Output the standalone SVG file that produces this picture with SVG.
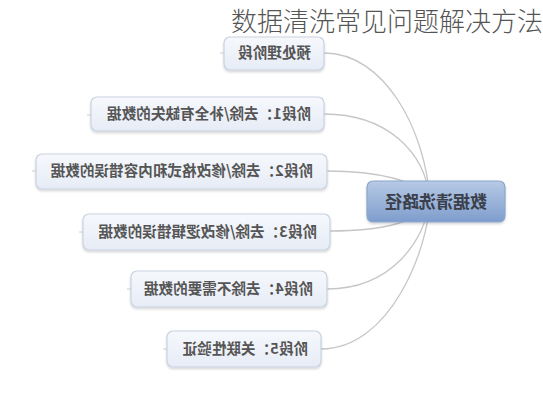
<svg xmlns="http://www.w3.org/2000/svg" width="543" height="400" viewBox="0 0 543 400">
<defs>
<linearGradient id="gn" x1="0" y1="0" x2="0" y2="1">
<stop offset="0" stop-color="#f6f8fc"/>
<stop offset="1" stop-color="#e6ecf6"/>
</linearGradient>
<linearGradient id="gc" x1="0" y1="0" x2="0" y2="1">
<stop offset="0" stop-color="#b7cae6"/>
<stop offset="1" stop-color="#7e9dcc"/>
</linearGradient>
<filter id="sh" x="-10%" y="-20%" width="120%" height="150%">
<feDropShadow dx="0" dy="1.5" stdDeviation="1.2" flood-color="#000" flood-opacity="0.18"/>
</filter>
</defs>
<style>
.n{fill:url(#gn);stroke:#c9d2e0;stroke-width:1.2;filter:url(#sh)}
.c{fill:url(#gc);stroke:#8ca6cc;stroke-width:1.2;filter:url(#sh)}
.t{font-family:"Noto Sans CJK SC","Liberation Sans",sans-serif;font-size:14.6px;font-weight:bold;fill:#555;text-anchor:start}
.ct{font-family:"Noto Sans CJK SC","Liberation Sans",sans-serif;font-size:17px;font-weight:bold;fill:#3a3f4a;text-anchor:middle}
.title{font-family:"Noto Sans CJK SC","Noto Sans",sans-serif;font-size:26px;font-weight:300;fill:#555}
.l{fill:none;stroke:#c6c6c6;stroke-width:1.3}
.s{stroke:#d0d0d0;stroke-width:1}
</style>
<rect width="543" height="400" fill="#ffffff"/>
<text class="title" x="231" y="31">数据清洗常见问题解决方法</text>
<g id="connectors">
<path class="l" d="M324,53 C385,53 425,130 430,200"/>
<path class="l" d="M324,114 C385,114 425,150 430,200"/>
<path class="l" d="M327,171 C375,171 420,180 430,200"/>
<path class="l" d="M330,231 C380,231 425,222 430,200"/>
<path class="l" d="M327,289 C392,289 425,240 430,200"/>
<path class="l" d="M321,349 C390,349 428,250 430,200"/>
<line class="s" x1="220" y1="53" x2="224" y2="53"/>
<line class="s" x1="87" y1="115" x2="91" y2="115"/>
<line class="s" x1="32" y1="171" x2="36" y2="171"/>
<line class="s" x1="79" y1="232" x2="83" y2="232"/>
<line class="s" x1="127" y1="289" x2="131" y2="289"/>
<line class="s" x1="163" y1="349" x2="167" y2="349"/>
</g>
<g id="center">
<rect class="c" x="367" y="181" width="138" height="41" rx="6"/>
<text class="ct" transform="scale(-1,1)" x="-436" y="208">数据清洗路径</text>
</g>
<g id="n0">
<rect class="n" x="224" y="37" width="100" height="33" rx="6"/>
<text class="t" transform="scale(-1,1)" x="-311" y="58">预处理阶段</text>
</g>
<g id="n1">
<rect class="n" x="91" y="97" width="233" height="34" rx="6"/>
<text class="t" transform="scale(-1,1)" x="-311" y="119">阶段1：去除/补全有缺失的数据</text>
</g>
<g id="n2">
<rect class="n" x="36" y="154" width="291" height="35" rx="6"/>
<text class="t" transform="scale(-1,1)" x="-313" y="176">阶段2：去除/修改格式和内容错误的数据</text>
</g>
<g id="n3">
<rect class="n" x="83" y="214" width="247" height="36" rx="6"/>
<text class="t" transform="scale(-1,1)" x="-317" y="237">阶段3：去除/修改逻辑错误的数据</text>
</g>
<g id="n4">
<rect class="n" x="131" y="271" width="196" height="36" rx="6"/>
<text class="t" transform="scale(-1,1)" x="-313" y="294">阶段4：去除不需要的数据</text>
</g>
<g id="n5">
<rect class="n" x="167" y="331" width="154" height="36" rx="6"/>
<text class="t" transform="scale(-1,1)" x="-308" y="354">阶段5：关联性验证</text>
</g>
</svg>
